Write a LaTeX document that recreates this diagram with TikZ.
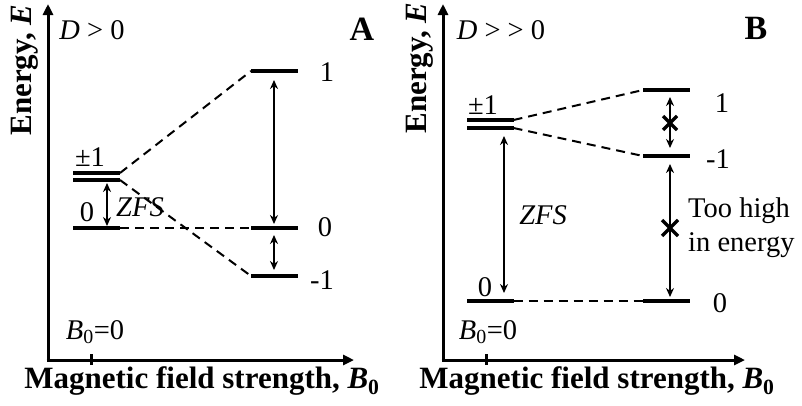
\documentclass[tikz,border=0pt]{standalone}
\usepackage{fontspec}
\setmainfont{Liberation Serif}
\usetikzlibrary{positioning,arrows.meta}
\tikzset{
  axis/.style={line width=3pt, -{Triangle[length=11pt,width=10pt]}},
  level/.style={fill=black, minimum width=47pt, minimum height=4.5pt, inner sep=0pt, outer sep=0pt},
  dashline/.style={line width=2pt, dash pattern=on 9pt off 6pt},
  trans/.style={line width=2pt, {Stealth[length=9pt,width=8pt]}-{Stealth[length=9pt,width=8pt]}},
  lbl/.style={font=\fontsize{28.5}{34}\selectfont, inner sep=0pt},
  axlbl/.style={font=\fontsize{31}{34}\selectfont\bfseries, inner sep=0pt},
  tag/.style={font=\fontsize{34}{34}\selectfont\bfseries, inner sep=0pt},
  cross/.style={line width=3.5pt}
}
\begin{document}
\begin{tikzpicture}[x=1pt,y=-1pt]
  \useasboundingbox (0,0) rectangle (802,405);
  % panel A, D > 0
  \coordinate (aO) at (48,360);
  \draw[axis] ([yshift=-1.5pt]aO) -- (48,4);
  \draw[axis] ([xshift=-1.5pt]aO) -- (354,360);
  \draw[line width=3pt] (91,354) -- (91,365);
  \node[axlbl, rotate=90] (aE) at (25,70) {Energy, \textit{E}};
  \node[axlbl] (aB) at (202,381) {Magnetic field strength, \textit{B}\textsubscript{0}};
  \node[lbl] (aD) at (92,30) {\textit{D} > 0};
  \node[tag] (aTag) at (362,29) {A};
  \node[lbl] (aZero) at (95,332) {\textit{B}\textsubscript{0}=0};

  \node[level] (apmU) at (96.5,173) {};
  \node[level] (apmL) at (96.5,180) {};
  \node[level] (a0) at (96.5,228) {};
  \node[level] (ap1) at (274.5,71) {};
  \node[level] (ap0) at (274.5,228) {};
  \node[level] (am1) at (274.5,276) {};
  \node[lbl] at (90,157) {±1};
  \node[lbl] at (87,212) {0};
  \node[lbl] at (327,72) {1};
  \node[lbl] at (325,227) {0};
  \node[lbl] at (322,280) {-1};
  \node[lbl, font=\fontsize{28.5}{34}\selectfont\itshape] at (140,207) {ZFS};

  \draw[dashline] (apmU.east) -- (ap1.west);
  \draw[dashline] (apmL.east) -- (am1.west);
  \draw[dashline] (a0.east) -- (ap0.west);
  \draw[trans] (107,183) -- (107,226);
  \draw[trans] (274,80) -- (274,224);
  \draw[trans] (274,235) -- (274,270);

  % panel B, D >> 0
  \coordinate (bO) at (443,360);
  \draw[axis] ([yshift=-1.5pt]bO) -- (443,4);
  \draw[axis] ([xshift=-1.5pt]bO) -- (745,360);
  \draw[line width=3pt] (486,354) -- (486,365);
  \node[axlbl, rotate=90] (bE) at (420,68) {Energy, \textit{E}};
  \node[axlbl] (bB) at (597,381) {Magnetic field strength, \textit{B}\textsubscript{0}};
  \node[lbl] (bD) at (501,30) {\textit{D} > > 0};
  \node[tag] (bTag) at (756,28) {B};
  \node[lbl] (bZero) at (488,332) {\textit{B}\textsubscript{0}=0};

  \node[level] (bpmU) at (490,120) {};
  \node[level] (bpmL) at (490,128) {};
  \node[level] (b0) at (490,301) {};
  \node[level] (bp1) at (666.5,90) {};
  \node[level] (bm1) at (666.5,156) {};
  \node[level] (bp0) at (666.5,301) {};
  \node[lbl] at (483,105) {±1};
  \node[lbl] at (485,287) {0};
  \node[lbl] at (722,103) {1};
  \node[lbl] at (718,159) {-1};
  \node[lbl] at (720,303) {0};
  \node[lbl, font=\fontsize{28.5}{34}\selectfont\itshape] at (543,215) {ZFS};
  \node[lbl, align=left, anchor=west] at (688,228) {Too high\\in energy};

  \draw[dashline] (bpmU.east) -- (bp1.west);
  \draw[dashline] (bpmL.east) -- (bm1.west);
  \draw[dashline] (b0.east) -- (bp0.west);
  \draw[trans] (504,136) -- (504,293);
  \draw[trans] (670,97) -- (670,148);
  \draw[trans] (670,164) -- (670,297);
  \draw[cross] (663,116) -- (677,130) (663,130) -- (677,116);
  \draw[cross] (662,220) -- (678,236) (662,236) -- (678,220);
\end{tikzpicture}
\end{document}
